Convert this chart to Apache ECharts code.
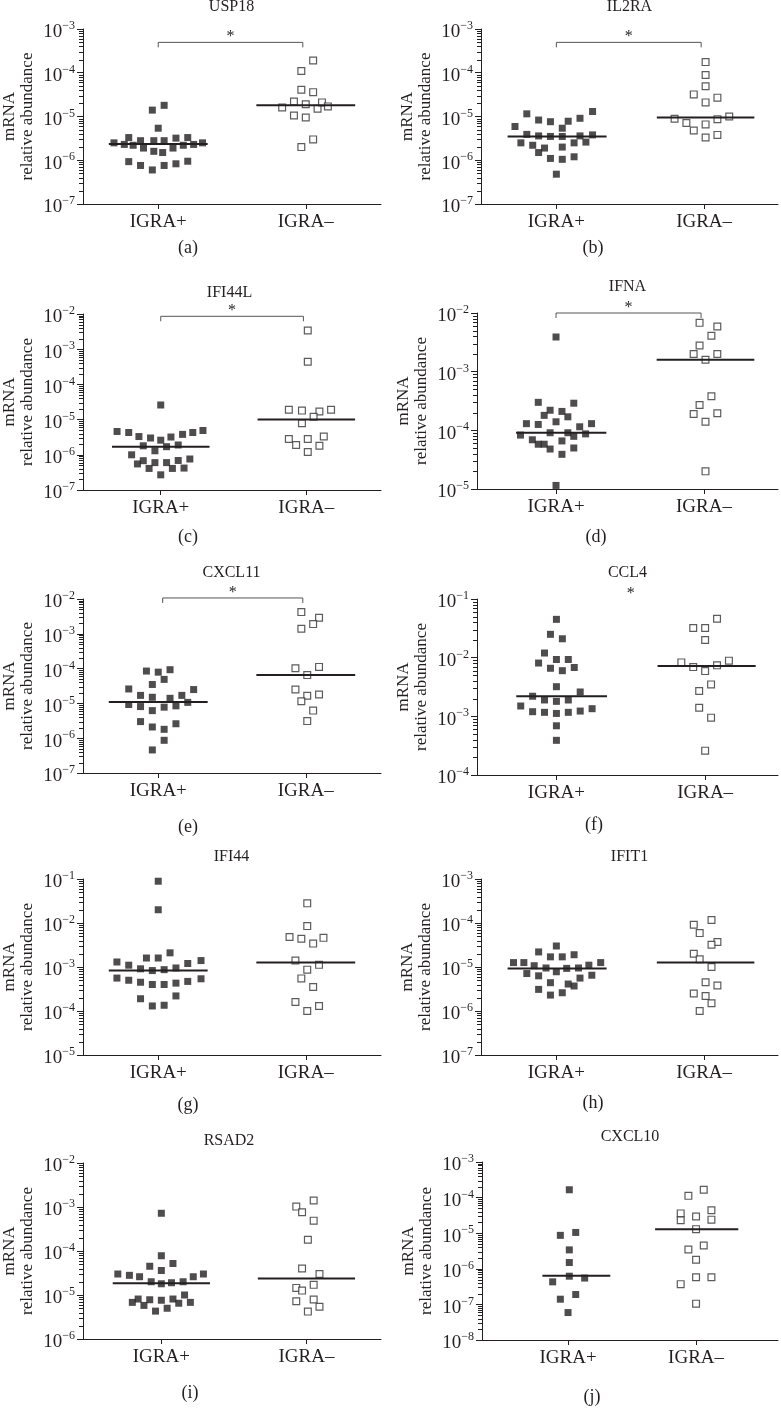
<!DOCTYPE html>
<html><head><meta charset="utf-8">
<script src="https://cdn.jsdelivr.net/npm/echarts@6/dist/echarts.min.js"></script>
<style>html,body{margin:0;padding:0;background:#fff}#c{width:781px;height:1414px}</style>
</head><body><div id="c"></div>
<script>
// ---------- DATA ----------
const genes = ['USP18','IL2RA','IFI44L','IFNA','CXCL11','CCL4','IFI44','IFIT1','RSAD2','CXCL10'];
const panelLetters = ['(a)','(b)','(c)','(d)','(e)','(f)','(g)','(h)','(i)','(j)'];
const groupLabels = ['IGRA+','IGRA–'];
const yAxisName = 'mRNA\nrelative abundance';
const yMin = [1e-7,1e-7,1e-7,1e-5,1e-7,1e-4,1e-5,1e-7,1e-6,1e-8];
const yMax = [1e-3,1e-3,1e-2,1e-2,1e-2,1e-1,1e-1,1e-3,1e-2,1e-3];

// [horizontal position within group, relative abundance]
const usp18Pos = [[0.96,1.4e-5],[1.04,1.8e-5],[1.00,5.4e-6],[0.70,2.5e-6],[0.77,2.3e-6],[0.80,3.3e-6],[0.83,2.2e-6],[0.88,2.8e-6],[0.90,1.9e-6],[0.97,2.8e-6],[0.97,1.6e-6],[1.04,2.8e-6],[1.03,1.5e-6],[1.10,1.9e-6],[1.12,3.2e-6],[1.17,2.2e-6],[1.20,3.3e-6],[1.24,2.3e-6],[1.30,2.5e-6],[0.80,9.3e-7],[0.88,7.6e-7],[0.96,6.0e-7],[1.04,7.6e-7],[1.12,8.3e-7],[1.20,9.5e-7]];
const usp18Neg = [[2.05,1.9e-4],[1.97,1.1e-4],[1.97,4.1e-5],[2.05,3.6e-5],[1.84,1.6e-5],[1.92,2.2e-5],[2.00,1.9e-5],[2.08,1.5e-5],[2.11,2.1e-5],[2.15,1.7e-5],[1.92,1.05e-5],[2.00,9.5e-6],[1.97,2.0e-6],[2.05,3.0e-6]];
const il2raPos = [[0.72,5.9e-6],[0.80,1.15e-5],[0.88,8.3e-6],[0.96,7.6e-6],[1.04,5.4e-6],[1.08,7.8e-6],[1.16,9.1e-6],[1.245,1.3e-5],[0.80,3.9e-6],[0.88,3.6e-6],[0.96,3.5e-6],[1.04,3.5e-6],[1.16,3.6e-6],[1.245,3.8e-6],[0.76,2.5e-6],[0.84,2.2e-6],[0.92,1.9e-6],[1.04,2.0e-6],[1.12,2.5e-6],[1.20,2.6e-6],[0.88,1.5e-6],[0.96,1.1e-6],[1.04,1.05e-6],[1.12,1.2e-6],[1.00,4.8e-7]];
const il2raNeg = [[2.01,1.75e-4],[2.01,8.9e-5],[2.01,4.9e-5],[1.93,3.2e-5],[2.09,2.7e-5],[2.01,2.1e-5],[1.80,8.9e-6],[1.88,7.1e-6],[2.01,6.6e-6],[2.09,8.7e-6],[2.17,1.0e-5],[1.93,4.8e-6],[2.01,3.3e-6],[2.09,3.8e-6]];
const ifi44lPos = [[1.00,2.6e-5],[0.70,4.6e-6],[0.78,4.3e-6],[0.85,3.3e-6],[0.93,3.0e-6],[1.00,2.6e-6],[1.07,3.2e-6],[1.15,3.8e-6],[1.22,4.3e-6],[1.29,4.9e-6],[0.88,1.8e-6],[0.96,1.3e-6],[1.04,1.7e-6],[1.12,1.9e-6],[0.80,1.0e-6],[0.84,5.5e-7],[0.88,6.8e-7],[0.96,6.0e-7],[1.04,6.0e-7],[1.12,6.9e-7],[1.20,7.6e-7],[0.92,4.1e-7],[1.08,4.1e-7],[1.16,4.2e-7],[1.00,2.7e-7]];
const ifi44lNeg = [[2.01,3.4e-3],[2.01,4.4e-4],[1.88,1.9e-5],[1.97,1.8e-5],[2.09,1.7e-5],[2.17,1.9e-5],[2.05,1.2e-5],[1.97,7.9e-6],[1.88,2.8e-6],[2.01,2.8e-6],[2.12,3.3e-6],[1.93,1.9e-6],[2.09,1.8e-6],[2.01,1.2e-6]];
const ifnaPos = [[1.00,3.9e-3],[0.88,3.0e-4],[1.12,2.9e-4],[0.96,2.2e-4],[1.04,2.1e-4],[0.92,1.8e-4],[1.08,1.7e-4],[0.80,1.3e-4],[0.88,1.26e-4],[1.00,1.4e-4],[1.16,1.15e-4],[1.24,1.3e-4],[0.76,8.3e-5],[0.96,9.1e-5],[1.08,9.1e-5],[1.12,7.9e-5],[1.20,8.7e-5],[0.84,6.9e-5],[0.88,5.8e-5],[0.92,5.8e-5],[1.04,6.6e-5],[0.96,4.8e-5],[1.12,5.0e-5],[1.04,3.9e-5],[1.00,1.15e-5]];
const ifnaNeg = [[1.97,6.8e-3],[2.09,5.9e-3],[2.05,4.1e-3],[1.97,2.8e-3],[1.93,2.0e-3],[2.09,2.0e-3],[2.01,1.6e-3],[2.05,3.8e-4],[1.97,2.7e-4],[1.93,1.9e-4],[2.09,1.95e-4],[2.01,1.4e-4],[2.01,2.0e-5]];
const cxcl11Pos = [[0.92,8.5e-5],[1.00,7.9e-5],[1.08,9.3e-5],[1.04,4.9e-5],[0.96,3.5e-5],[0.80,2.6e-5],[1.24,2.5e-5],[0.88,1.7e-5],[1.16,1.7e-5],[0.96,1.5e-5],[1.08,1.4e-5],[0.80,9.3e-6],[0.88,8.1e-6],[1.20,1.07e-5],[1.12,8.5e-6],[0.96,6.2e-6],[1.04,7.8e-6],[0.88,3.0e-6],[1.12,2.6e-6],[0.96,2.1e-6],[1.04,1.8e-6],[1.04,8.7e-7],[0.96,4.6e-7]];
const cxcl11Neg = [[1.97,4.2e-3],[2.09,2.9e-3],[2.05,1.9e-3],[1.97,1.4e-3],[1.93,1.02e-4],[2.09,1.12e-4],[2.01,6.5e-5],[1.93,2.5e-5],[2.01,1.66e-5],[2.09,1.8e-5],[1.97,1.15e-5],[2.05,6.2e-6],[2.01,3.1e-6]];
const ccl4Pos = [[1.00,4.5e-2],[0.96,2.5e-2],[1.04,2.1e-2],[0.92,1.2e-2],[0.88,8.1e-3],[1.00,9.3e-3],[1.08,9.3e-3],[0.96,6.6e-3],[1.12,6.8e-3],[1.04,6.0e-3],[1.00,3.2e-3],[1.16,2.6e-3],[0.84,2.2e-3],[0.92,1.9e-3],[1.00,1.8e-3],[1.08,1.9e-3],[0.76,1.5e-3],[0.84,1.2e-3],[0.92,1.17e-3],[1.00,1.12e-3],[1.08,1.17e-3],[1.16,1.23e-3],[1.24,1.35e-3],[1.00,6.9e-4],[1.00,3.9e-4]];
const ccl4Neg = [[2.08,4.6e-2],[1.92,3.2e-2],[2.00,3.2e-2],[2.00,2.0e-2],[1.84,8.3e-3],[2.16,8.9e-3],[1.92,6.9e-3],[2.08,7.4e-3],[2.00,5.9e-3],[2.04,3.5e-3],[1.96,2.7e-3],[1.96,1.4e-3],[2.04,9.5e-4],[2.00,2.6e-4]];
const ifi44Pos = [[1.00,8.9e-2],[1.00,2.0e-2],[1.08,2.1e-3],[0.92,1.6e-3],[1.00,1.6e-3],[0.72,1.3e-3],[1.29,1.4e-3],[0.80,1.1e-3],[1.20,1.2e-3],[0.88,9.1e-4],[0.96,8.3e-4],[1.04,8.7e-4],[1.12,9.5e-4],[0.72,5.6e-4],[0.80,5.0e-4],[0.88,4.5e-4],[0.96,4.0e-4],[1.04,4.0e-4],[1.12,4.3e-4],[1.20,4.7e-4],[1.29,5.4e-4],[1.12,2.2e-4],[0.88,1.9e-4],[0.96,1.3e-4],[1.04,1.35e-4]];
const ifi44Neg = [[2.01,2.8e-2],[2.01,8.5e-3],[1.89,4.8e-3],[1.97,4.4e-3],[2.12,4.6e-3],[2.05,3.4e-3],[1.93,1.4e-3],[2.09,1.12e-3],[2.01,8.7e-4],[1.97,5.5e-4],[2.05,3.5e-4],[1.93,1.6e-4],[2.09,1.3e-4],[2.01,1.0e-4]];
const ifit1Pos = [[1.00,3.0e-5],[0.88,2.2e-5],[0.96,1.7e-5],[1.04,1.7e-5],[1.12,1.9e-5],[0.71,1.26e-5],[0.78,1.26e-5],[1.30,1.26e-5],[0.85,1.07e-5],[1.22,1.1e-5],[0.93,9.5e-6],[1.07,9.3e-6],[1.15,9.5e-6],[0.80,7.1e-6],[1.00,7.8e-6],[0.88,6.3e-6],[1.24,6.5e-6],[1.16,5.6e-6],[0.96,4.4e-6],[1.08,4.1e-6],[1.12,3.7e-6],[0.88,3.1e-6],[0.96,2.3e-6],[1.04,2.6e-6]];
const ifit1Neg = [[2.05,1.17e-4],[1.93,9.1e-5],[1.97,5.9e-5],[2.09,3.7e-5],[2.05,3.2e-5],[1.93,2.0e-5],[1.97,1.5e-5],[2.05,1.0e-5],[2.01,4.5e-6],[2.09,3.8e-6],[1.93,2.5e-6],[2.01,2.2e-6],[2.05,1.5e-6],[1.97,1.0e-6]];
const rsad2Pos = [[1.00,7.2e-4],[1.00,7.8e-5],[1.08,5.2e-5],[0.92,4.5e-5],[1.00,3.6e-5],[0.70,3.0e-5],[0.78,2.8e-5],[0.85,2.6e-5],[1.29,3.0e-5],[1.22,2.6e-5],[0.93,2.0e-5],[1.00,1.8e-5],[1.07,1.9e-5],[1.15,2.0e-5],[1.16,1.0e-5],[0.84,8.1e-6],[0.92,7.8e-6],[1.00,7.6e-6],[1.08,8.1e-6],[0.80,6.8e-6],[0.88,5.8e-6],[1.12,6.5e-6],[1.20,6.8e-6],[1.04,5.0e-6],[0.96,4.3e-6]];
const rsad2Neg = [[2.05,1.4e-3],[1.93,1.02e-3],[1.97,7.6e-4],[2.05,4.9e-4],[2.01,1.8e-4],[1.97,4.0e-5],[2.09,3.0e-5],[2.05,1.7e-5],[1.93,1.45e-5],[1.97,1.26e-5],[1.93,7.2e-6],[2.05,7.9e-6],[2.09,5.4e-6],[2.01,4.2e-6]];
const cxcl10Pos = [[1.01,1.66e-4],[0.94,8.7e-6],[1.06,1.05e-5],[1.01,3.4e-6],[1.01,1.5e-6],[1.01,6.2e-7],[0.88,4.3e-7],[1.13,5.5e-7],[1.06,1.9e-7],[0.94,1.4e-7],[1.00,5.9e-8]];
const cxcl10Neg = [[2.06,1.66e-4],[1.94,1.12e-4],[1.88,3.6e-5],[2.00,2.95e-5],[2.12,4.4e-5],[1.88,2.3e-5],[2.12,2.4e-5],[2.00,1.3e-5],[2.06,4.5e-6],[1.94,3.5e-6],[2.00,1.8e-6],[1.88,3.7e-7],[2.00,5.8e-7],[2.12,5.8e-7],[2.00,1.05e-7]];

const medianPos = [2.35e-6,3.5e-6,1.7e-6,9.1e-5,1.1e-5,2.2e-3,8.3e-4,9.3e-6,1.86e-5,6.4e-7];
const medianNeg = [1.8e-5,9.5e-6,1.0e-5,1.6e-3,6.6e-5,7.2e-3,1.26e-3,1.26e-5,2.36e-5,1.3e-5];

// significance: bracket level (null = none), bracket ends, star text
const sigLevel = [4.95e-4,4.95e-4,8.6e-3,1.0e-2,1.07e-2,1.0e-1,null,null,null,null];
const sigFrom  = [1,1,1,1,1.03,1.5,null,null,null,null];
const sigTo    = [1.98,1.98,1.98,1.98,1.98,1.5,null,null,null,null];
const sigStar  = ['*','*','*','*','*','*',null,null,null,null];

const posData = [usp18Pos,il2raPos,ifi44lPos,ifnaPos,cxcl11Pos,ccl4Pos,ifi44Pos,ifit1Pos,rsad2Pos,cxcl10Pos];
const negData = [usp18Neg,il2raNeg,ifi44lNeg,ifnaNeg,cxcl11Neg,ccl4Neg,ifi44Neg,ifit1Neg,rsad2Neg,cxcl10Neg];

// ---------- LAYOUT ----------
const L = [
  {l:82, t:29,  w:299,h:175,xmin:0.49, xmax:2.51,ty:7,   ly:248, lx:188, sp:[0.335,0.335], sn:[0.335,0.335]},
  {l:481,t:29,  w:297,h:175,xmin:0.49, xmax:2.50,ty:7,   ly:248, lx:593, sp:[0.33,0.34],   sn:[0.32,0.34]},
  {l:78, t:314, w:303,h:176,xmin:0.466,xmax:2.513,ty:293,ly:537, lx:188, sp:[0.335,0.335], sn:[0.335,0.335]},
  {l:477,t:313, w:301,h:176,xmin:0.466,xmax:2.50,ty:287, ly:537, lx:596, sp:[0.27,0.34],   sn:[0.32,0.34]},
  {l:82, t:599, w:299,h:174,xmin:0.49, xmax:2.51,ty:573, ly:827, lx:188, sp:[0.335,0.335], sn:[0.335,0.335]},
  {l:477,t:599, w:301,h:176,xmin:0.466,xmax:2.49,ty:573, ly:825, lx:594, sp:[0.27,0.34],   sn:[0.32,0.34]},
  {l:82, t:879, w:299,h:176,xmin:0.49, xmax:2.51,ty:857, ly:1105,lx:188, sp:[0.335,0.335], sn:[0.335,0.335]},
  {l:481,t:879, w:297,h:176,xmin:0.49, xmax:2.50,ty:857, ly:1103,lx:593, sp:[0.33,0.34],   sn:[0.32,0.34]},
  {l:77, t:1163,w:304,h:176,xmin:0.46, xmax:2.514,ty:1141,ly:1393,lx:190, sp:[0.335,0.335], sn:[0.335,0.335]},
  {l:482,t:1162,w:296,h:178,xmin:0.328,xmax:2.64,ty:1137,ly:1397,lx:592, sp:[0.20,0.33],   sn:[0.32,0.33]}
];

const FONT = "'Liberation Serif','DejaVu Serif',serif";
const INK = '#231f20';

const grids = [], xAxes = [], yAxes = [], series = [], graphics = [];

// values of the logarithmic minor ticks (axis decoration only)
function minorTickValues(min, max) {
  const out = [];
  const e0 = Math.round(Math.log10(min)), e1 = Math.round(Math.log10(max));
  for (let e = e0; e < e1; e++) for (let m = 2; m <= 9; m++) out.push([1.5, m * Math.pow(10, e)]);
  return out;
}

for (let i = 0; i < genes.length; i++) {
  const g = L[i];
  grids.push({left:g.l, top:g.t, width:g.w, height:g.h, containLabel:false});
  xAxes.push({
    type:'value', gridIndex:i, min:g.xmin, max:g.xmax,
    axisLine:{show:true, onZero:false, lineStyle:{color:INK, width:1}},
    axisTick:{show:true, customValues:[1,2], length:5, lineStyle:{color:INK}},
    axisLabel:{show:true, customValues:[1,2], margin:9, fontSize:19, fontFamily:FONT, color:INK,
      formatter: v => (Math.abs(v-1) < 0.01 ? groupLabels[0] : groupLabels[1])},
    splitLine:{show:false}
  });
  yAxes.push({
    type:'log', logBase:10, gridIndex:i, min:yMin[i], max:yMax[i],
    axisLine:{show:true, onZero:false, lineStyle:{color:INK, width:1}},
    axisTick:{show:true, length:6, lineStyle:{color:INK}},
    splitLine:{show:false},
    axisLabel:{margin:8, color:INK, fontFamily:FONT, padding:[4,0,0,0],
      formatter: v => '{b|10}{s|−' + (-Math.round(Math.log10(v))) + '}',
      rich:{
        b:{fontSize:19, fontFamily:FONT, color:INK, lineHeight:22, verticalAlign:'bottom'},
        s:{fontSize:12, fontFamily:FONT, color:INK, lineHeight:12, verticalAlign:'top'}
      }},
    name:yAxisName, nameLocation:'middle', nameRotate:90, nameGap:46,
    nameTextStyle:{fontSize:17, lineHeight:18, fontFamily:FONT, color:INK}
  });
  // minor ticks: y from the log axis scale, x from the grid's left edge
  series.push({
    type:'custom', xAxisIndex:i, yAxisIndex:i, silent:true, clip:false, z:6,
    data:minorTickValues(yMin[i], yMax[i]), encode:{x:0, y:1},
    renderItem:(params, api) => {
      const y = Math.round(api.coord([api.value(0), api.value(1)])[1]) + 0.5;
      const x = Math.round(params.coordSys.x);
      return {type:'rect', shape:{x:x - 4, y:y - 0.5, width:4, height:1}, style:{fill:INK}};
    }
  });
  series.push({
    type:'scatter', xAxisIndex:i, yAxisIndex:i, data:posData[i], symbol:'rect', symbolSize:7,
    itemStyle:{color:INK}, z:3, silent:true
  });
  series.push({
    type:'scatter', xAxisIndex:i, yAxisIndex:i, data:negData[i], symbol:'rect', symbolSize:6.8,
    itemStyle:{color:'#fff', borderColor:'#333', borderWidth:1.2}, z:3, silent:true
  });
  series.push({
    type:'line', xAxisIndex:i, yAxisIndex:i, showSymbol:false, silent:true, z:4,
    data:[[1-g.sp[0], medianPos[i]],[1+g.sp[1], medianPos[i]]],
    lineStyle:{color:INK, width:2}
  });
  series.push({
    type:'line', xAxisIndex:i, yAxisIndex:i, showSymbol:false, silent:true, z:4,
    data:[[2-g.sn[0], medianNeg[i]],[2+g.sn[1], medianNeg[i]]],
    lineStyle:{color:INK, width:2}
  });
  if (sigLevel[i] !== null) {
    const drawBracket = sigFrom[i] !== sigTo[i];
    series.push({
      type:'custom', xAxisIndex:i, yAxisIndex:i, silent:true, clip:false, z:5,
      data:[[sigFrom[i], sigTo[i], sigLevel[i]]], encode:{x:[0,1], y:2},
      renderItem:(params, api) => {
        const p1 = api.coord([api.value(0), api.value(2)]);
        const p2 = api.coord([api.value(1), api.value(2)]);
        const children = [];
        if (drawBracket) children.push({type:'polyline',
          shape:{points:[[p1[0],p1[1]+5],[p1[0],p1[1]],[p2[0],p2[1]],[p2[0],p2[1]+5]]},
          style:{stroke:'#555', lineWidth:1, fill:null}});
        children.push({type:'text', x:(p1[0]+p2[0])/2, y:p1[1]-5.5,
          style:{text:sigStar[i], font:'16px ' + FONT, fill:INK, align:'center', verticalAlign:'middle'}});
        return {type:'group', children};
      }
    });
  }
  graphics.push({type:'text', x:g.l + g.w/2, y:g.ty, silent:true,
    style:{text:genes[i], font:'16px ' + FONT, fill:INK, align:'center', verticalAlign:'middle'}});
  graphics.push({type:'text', x:g.lx, y:g.ly, silent:true,
    style:{text:panelLetters[i], font:'18px ' + FONT, fill:INK, align:'center', verticalAlign:'middle'}});
}

const chart = echarts.init(document.getElementById('c'), null, {renderer:'canvas'});
chart.setOption({
  animation:false, backgroundColor:'#fff',
  textStyle:{fontFamily:FONT},
  grid:grids, xAxis:xAxes, yAxis:yAxes, series, graphic:graphics
});
</script></body></html>
